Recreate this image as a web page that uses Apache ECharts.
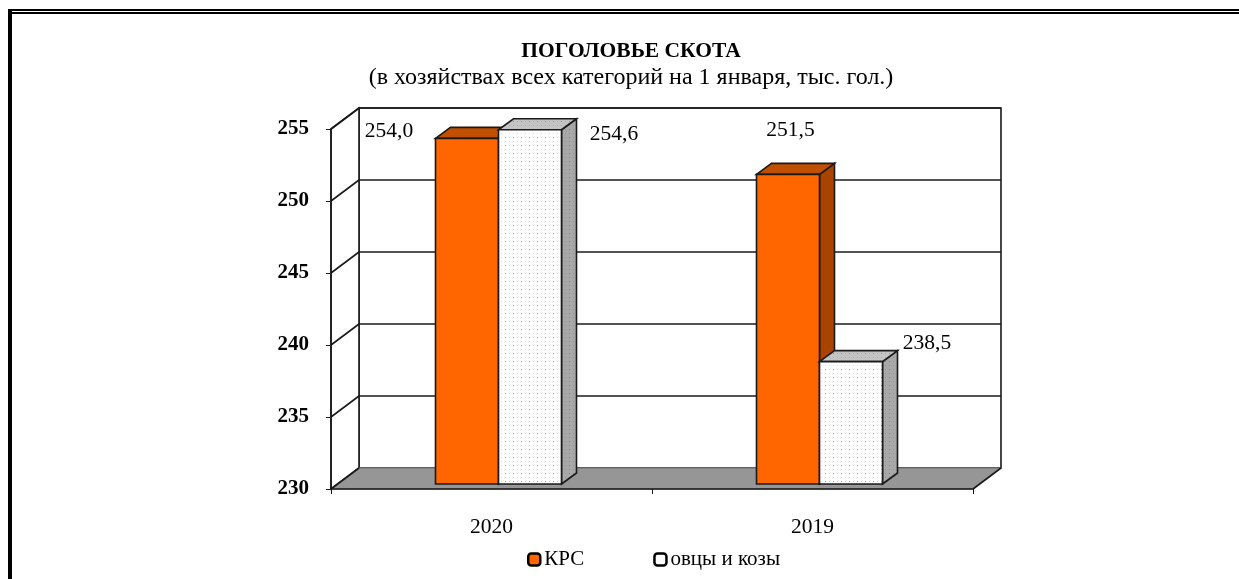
<!DOCTYPE html>
<html>
<head>
<meta charset="utf-8">
<title>Поголовье скота</title>
<script src="https://cdn.jsdelivr.net/npm/echarts@6/dist/echarts.min.js"></script>
<style>
  html, body { margin: 0; padding: 0; background: #fff; }
  #main { width: 1239px; height: 579px; }
</style>
</head>
<body>
<div id="main"></div>
<script>
const categories = ['2020', '2019']
const cattle = [254.0, 251.5]
const sheep = [254.6, 238.5]
const seriesNames = ['КРС', 'овцы и козы']
const axisMin = 230
const axisMax = 255
const axisStep = 5
const tickValues = [230, 235, 240, 245, 250, 255]

// excel-style hand placed labels, offset from the top middle of each bar
const cattleLabelShift = [[-78, -7], [2.5, -44]]
const sheepLabelShift = [[84, 5], [76, -18]]

const FONT = '"Liberation Serif", "Times New Roman", serif'
const LINE = '#1a1a1a'
const depth = {x: 28, y: 21} // whole chart depth
const barDepth = {x: 15, y: 11}
const barInset = {x: 7, y: 5} // bars stand a little behind the front edge
const barWidth = 63

// dotted fill like the excel pattern
const makeDots = (bg, dot, dot2) => {
  let c = document.createElement('canvas')
  c.width = 8
  c.height = 8
  let g = c.getContext('2d')
  g.fillStyle = bg
  g.fillRect(0, 0, 8, 8)
  g.fillStyle = dot
  g.fillRect(1, 1, 1, 1)
  g.fillStyle = dot2
  g.fillRect(5, 1, 1, 1)
  g.fillRect(1, 5, 1, 1)
  g.fillRect(5, 5, 1, 1)
  return {image: c, repeat: 'repeat'}
}
const dotsFront = makeDots('#ffffff', '#a6a6a6', '#dcdcdc')
const dotsTop = makeDots('#c4c4c4', '#8e8e8e', '#a8a8a8')
const dotsSide = makeDots('#a8a8a8', '#7a7a7a', '#929292')

const faces = {
  cattle: {front: '#ff6600', top: '#c05000', side: '#a84300'},
  sheep: {front: dotsFront, top: dotsTop, side: dotsSide}
}

const poly = (points, fill, stroke, width) => ({
  type: 'polygon',
  shape: {points: points},
  style: {fill: fill, stroke: stroke || LINE, lineWidth: width || 1.6}
})
const seg = (x1, y1, x2, y2) => ({
  type: 'line',
  shape: {x1: x1, y1: y1, x2: x2, y2: y2},
  style: {stroke: LINE, lineWidth: 1.6, fill: null}
})

// left/right edges of the plot, taken from the category scale
const plotEdges = (api) => {
  let band = api.size([1, 0])[0]
  return {
    left: api.coord([0, axisMin])[0] - band / 2,
    right: api.coord([categories.length - 1, axisMin])[0] + band / 2
  }
}

const renderWalls = (params, api) => {
  let e = plotEdges(api)
  let yb = api.coord([0, axisMin])[1]
  let yt = api.coord([0, axisMax])[1]
  return {
    type: 'group',
    children: [
      poly([[e.left + depth.x, yb - depth.y], [e.right + depth.x, yb - depth.y], [e.right + depth.x, yt - depth.y], [e.left + depth.x, yt - depth.y]], '#fff'),
      poly([[e.left, yb], [e.left + depth.x, yb - depth.y], [e.left + depth.x, yt - depth.y], [e.left, yt]], '#fff'),
      poly([[e.left, yb], [e.right, yb], [e.right + depth.x, yb - depth.y], [e.left + depth.x, yb - depth.y]], '#969696', '#6e6e6e', 1),
      seg(e.left, yb, e.left + depth.x, yb - depth.y),
      seg(e.right, yb, e.right + depth.x, yb - depth.y)
    ]
  }
}

const renderGridline = (params, api) => {
  let e = plotEdges(api)
  let y = api.coord([0, api.value(1)])[1]
  return {
    type: 'group',
    children: [
      seg(e.left, y, e.left + depth.x, y - depth.y),
      seg(e.left + depth.x, y - depth.y, e.right + depth.x, y - depth.y)
    ]
  }
}

const makeBarRender = (face, side, shifts) => (params, api) => {
  let p = api.coord([api.value(0), api.value(1)])
  let base = api.coord([api.value(0), axisMin])
  let x0 = p[0] + barInset.x + (side < 0 ? -barWidth : 0)
  let x1 = x0 + barWidth
  let yt = p[1] - barInset.y
  let yb = base[1] - barInset.y
  let dx = barDepth.x
  let dy = barDepth.y
  let shift = shifts[params.dataIndex]
  return {
    type: 'group',
    children: [
      poly([[x1, yb], [x1 + dx, yb - dy], [x1 + dx, yt - dy], [x1, yt]], face.side),
      poly([[x0, yt], [x1, yt], [x1 + dx, yt - dy], [x0 + dx, yt - dy]], face.top),
      poly([[x0, yb], [x1, yb], [x1, yt], [x0, yt]], face.front),
      {
        type: 'text',
        z2: 50,
        style: {
          x: (x0 + x1) / 2 + shift[0],
          y: yt + shift[1],
          text: api.value(1).toFixed(1).replace('.', ','),
          font: '21.5px ' + FONT,
          fill: '#000',
          align: 'center',
          verticalAlign: 'middle'
        }
      }
    ]
  }
}

const toPairs = (values) => values.map((v, i) => [i, v])

let myChart = echarts.init(document.getElementById('main'), null, {renderer: 'canvas'})
myChart.setOption({
  animation: false,
  backgroundColor: '#fff',
  graphic: [
    {type: 'rect', shape: {x: 8, y: 9, width: 1231, height: 2}, style: {fill: '#000'}},
    {type: 'rect', shape: {x: 8, y: 12, width: 1231, height: 2}, style: {fill: '#000'}},
    {type: 'rect', shape: {x: 8, y: 9, width: 4, height: 570}, style: {fill: '#000'}}
  ],
  title: [
    {
      text: 'ПОГОЛОВЬЕ СКОТА',
      left: 626,
      top: 35,
      textAlign: 'center',
      textStyle: {fontFamily: FONT, fontSize: 21.5, fontWeight: 'bold', color: '#000'}
    },
    {
      text: '(в хозяйствах всех категорий на 1 января, тыс. гол.)',
      left: 626,
      top: 61,
      textAlign: 'center',
      textStyle: {fontFamily: FONT, fontSize: 24, fontWeight: 'normal', color: '#000'}
    }
  ],
  legend: {
    left: 522,
    top: 544,
    itemWidth: 12,
    itemHeight: 12,
    itemGap: 69,
    selectedMode: false,
    textStyle: {fontFamily: FONT, fontSize: 21, color: '#000', padding: [3, 0, 0, -1]},
    data: [
      {name: seriesNames[0], icon: 'roundRect', itemStyle: {color: '#ff6600', borderColor: '#000', borderWidth: 2.5}},
      {name: seriesNames[1], icon: 'roundRect', itemStyle: {color: '#fff', borderColor: '#000', borderWidth: 2.5}}
    ]
  },
  grid: {left: 331, top: 129, width: 642, height: 360},
  xAxis: {
    type: 'category',
    data: categories,
    z: 5,
    axisLine: {lineStyle: {color: LINE, width: 1.6}},
    axisTick: {show: true, length: 5, lineStyle: {color: LINE, width: 1}},
    axisLabel: {fontFamily: FONT, fontSize: 21.5, color: '#000', margin: 27},
    splitLine: {show: false}
  },
  yAxis: {
    type: 'value',
    min: axisMin,
    max: axisMax,
    interval: axisStep,
    z: 5,
    axisLine: {show: true, lineStyle: {color: LINE, width: 1.6}},
    axisTick: {show: true, length: 5, lineStyle: {color: LINE, width: 1}},
    axisLabel: {fontFamily: FONT, fontSize: 21, fontWeight: 'bold', color: '#000', margin: 22},
    splitLine: {show: false}
  },
  series: [
    {type: 'custom', name: 'walls', z: 1, silent: true, data: [[0, axisMin]], renderItem: renderWalls},
    {type: 'custom', name: 'grid', z: 2, silent: true, data: tickValues.slice(1).map(v => [0, v]), renderItem: renderGridline},
    {type: 'custom', name: seriesNames[0], z: 3, data: toPairs(cattle), renderItem: makeBarRender(faces.cattle, -1, cattleLabelShift)},
    {type: 'custom', name: seriesNames[1], z: 4, data: toPairs(sheep), renderItem: makeBarRender(faces.sheep, 1, sheepLabelShift)}
  ]
})
</script>
</body>
</html>
